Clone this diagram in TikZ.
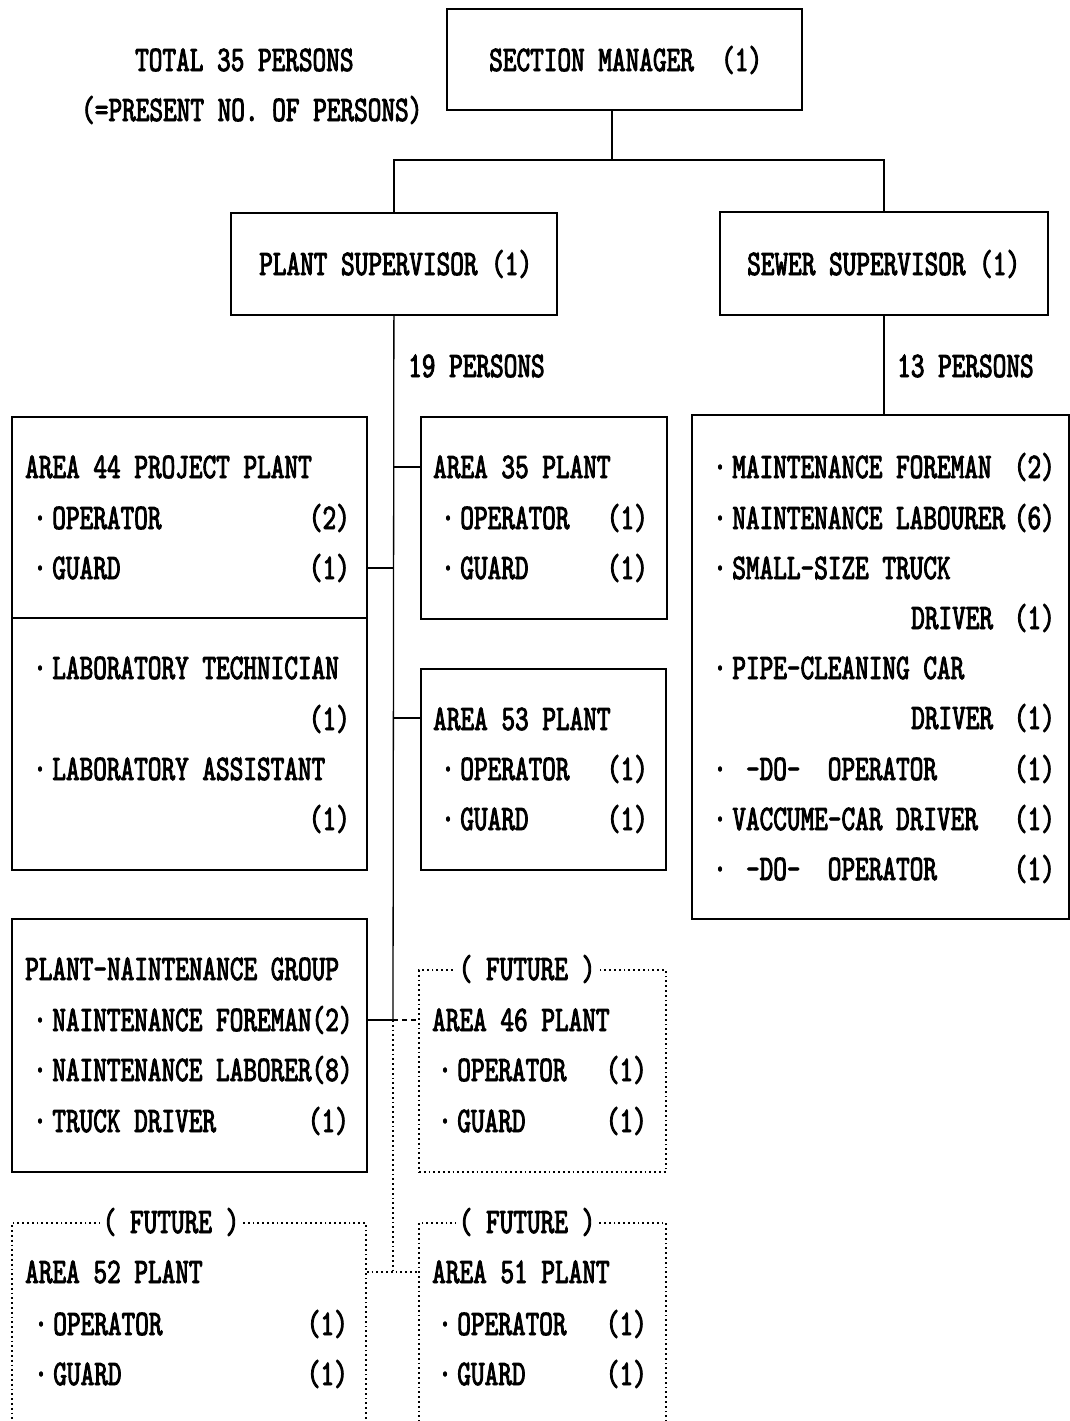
\documentclass[tikz,border=0pt]{standalone}
\usepackage{fontspec}
\newfontfamily\orgfont{lmmono10-regular.otf}[FakeStretch=0.722,FakeBold=2.5]
\newcommand\bul{·\hspace{5.5pt}}
\begin{document}
\begin{tikzpicture}[x=1pt,y=-1pt,
 box/.style={draw, line width=1.8pt, inner sep=0pt, anchor=north west},
 futbox/.style={draw, line width=1.8pt, dash pattern=on 1.8pt off 3pt, inner sep=0pt, anchor=north west},
 conn/.style={line width=1.3pt},
 dconn/.style={line width=1.8pt, dash pattern=on 1.8pt off 3pt},
 dashconn/.style={line width=1.3pt, dash pattern=on 5pt off 4pt},
 txt/.style={inner sep=0pt, anchor=base west, font=\orgfont\fontsize{36}{36}\selectfont},
 num/.style={txt, anchor=base east},
 futlbl/.style={txt, anchor=base, fill=white, inner xsep=3pt}
]
\useasboundingbox (0,0) rectangle (1070,1421);
\clip (0,0) rectangle (1070,1421);

% boxes
\node[box, minimum width=355pt, minimum height=101pt] (sm) at (446,8) {};
\node[box, minimum width=326pt, minimum height=102pt] (ps) at (230,212) {};
\node[box, minimum width=328pt, minimum height=103pt] (ss) at (719,211) {};
\node[box, minimum width=355pt, minimum height=453pt] (a44) at (11,416) {};
\node[box, minimum width=246pt, minimum height=202pt] (a35) at (420,416) {};
\node[box, minimum width=245pt, minimum height=201pt] (a53) at (420,668) {};
\node[box, minimum width=377pt, minimum height=504pt] (sew) at (691,414) {};
\node[box, minimum width=355pt, minimum height=253pt] (pm) at (11,918) {};
\node[futbox, minimum width=247pt, minimum height=202pt] (f46) at (418,969) {};
\node[futbox, minimum width=354pt, minimum height=240pt] (f52) at (11,1222) {};
\node[futbox, minimum width=247pt, minimum height=240pt] (f51) at (418,1222) {};

% divider in area 44 box
\path (a44.north west) ++(0,202) coordinate (d1);
\draw[line width=1.5pt] (d1) -- (d1 -| a44.east);

% connectors
\coordinate (j0) at (612,160);
\draw[conn] (sm.south -| j0) -- (j0);
\draw[conn] (ps.north) -- (ps.north |- j0) -- (ss.north |- j0) -- (ss.north);
\draw[conn] (ss.south) -- (ss.south |- sew.north);
\coordinate (r35) at (393,467);
\coordinate (r44) at (393,568);
\coordinate (r53) at (393,718);
\coordinate (t1) at (393,1020);
\coordinate (t2) at (393,1272);
\draw[conn] (ps.south) -- (t1);
\draw[conn] (r35) -- (r35 -| a35.west);
\draw[conn] (r44) -- (r44 -| a44.east);
\draw[conn] (r53) -- (r53 -| a53.west);
\draw[conn] (t1) -- (t1 -| pm.east);
\draw[dashconn] (t1) -- (t1 -| f46.west);
\draw[dconn] (t1) -- (t2);
\draw[dconn] (t2 -| f52.east) -- (t2 -| f51.west);

% top texts
\node[txt] (tot) at (135,71) {TOTAL 35 PERSONS};
\node[txt] (pres) at (81,121) {(=PRESENT NO. OF PERSONS)};
\node[txt] (smt) at (489,71) {SECTION MANAGER~~(1)};
\node[txt] (pst) at (259,275) {PLANT SUPERVISOR (1)};
\node[txt] (sst) at (747,275) {SEWER SUPERVISOR (1)};
\node[txt] (p19) at (408,377) {19 PERSONS};
\node[txt] (p13) at (897,377) {13 PERSONS};

% area 44
\node[txt] (a44a) at (25,478) {AREA 44 PROJECT PLANT};
\node[txt] (a44b) at (33,529) {\bul OPERATOR};
\node[num] (a44bn) at (350,529) {(2)};
\node[txt] (a44c) at (33,579) {\bul GUARD};
\node[num] (a44cn) at (350,579) {(1)};
\node[txt] (a44d) at (33,679) {\bul LABORATORY TECHNICIAN};
\node[num] (a44dn) at (350,730) {(1)};
\node[txt] (a44e) at (33,780) {\bul LABORATORY ASSISTANT};
\node[num] (a44en) at (350,830) {(1)};

% area 35
\node[txt] (a35a) at (433,478) {AREA 35 PLANT};
\node[txt] (a35b) at (441,529) {\bul OPERATOR};
\node[num] (a35bn) at (648,529) {(1)};
\node[txt] (a35c) at (441,579) {\bul GUARD};
\node[num] (a35cn) at (648,579) {(1)};

% area 53
\node[txt] (a53a) at (433,730) {AREA 53 PLANT};
\node[txt] (a53b) at (441,780) {\bul OPERATOR};
\node[num] (a53bn) at (648,780) {(1)};
\node[txt] (a53c) at (441,830) {\bul GUARD};
\node[num] (a53cn) at (648,830) {(1)};

% sewer box
\node[txt] (sw1) at (713,478) {\bul MAINTENANCE FOREMAN};
\node[num] (sw1n) at (1055,478) {(2)};
\node[txt] (sw2) at (713,529) {\bul NAINTENANCE LABOURER};
\node[num] (sw2n) at (1055,529) {(6)};
\node[txt] (sw3) at (713,579) {\bul SMALL-SIZE TRUCK};
\node[txt] (sw4) at (911,629) {DRIVER};
\node[num] (sw4n) at (1055,629) {(1)};
\node[txt] (sw5) at (713,679) {\bul PIPE-CLEANING CAR};
\node[txt] (sw6) at (911,729) {DRIVER};
\node[num] (sw6n) at (1055,729) {(1)};
\node[txt] (sw7) at (713,780) {\bul~-DO-~~OPERATOR};
\node[num] (sw7n) at (1055,780) {(1)};
\node[txt] (sw8) at (713,830) {\bul VACCUME-CAR DRIVER};
\node[num] (sw8n) at (1055,830) {(1)};
\node[txt] (sw9) at (713,880) {\bul~-DO-~~OPERATOR};
\node[num] (sw9n) at (1055,880) {(1)};

% plant maintenance group
\node[txt] (pm1) at (25,980) {PLANT-NAINTENANCE GROUP};
\node[txt] (pm2) at (33,1031) {\bul NAINTENANCE FOREMAN(2)};
\node[txt] (pm3) at (33,1081) {\bul NAINTENANCE LABORER(8)};
\node[txt] (pm4) at (33,1132) {\bul TRUCK DRIVER};
\node[num] (pm4n) at (349,1132) {(1)};

% future area 46
\node[futlbl] (f46l) at (527,980) {( FUTURE )};
\node[txt] (f46a) at (432,1031) {AREA 46 PLANT};
\node[txt] (f46b) at (438,1081) {\bul OPERATOR};
\node[num] (f46bn) at (647,1081) {(1)};
\node[txt] (f46c) at (438,1132) {\bul GUARD};
\node[num] (f46cn) at (647,1132) {(1)};

% future area 52
\node[futlbl] (f52l) at (171,1233) {( FUTURE )};
\node[txt] (f52a) at (25,1283) {AREA 52 PLANT};
\node[txt] (f52b) at (34,1335) {\bul OPERATOR};
\node[num] (f52bn) at (348,1335) {(1)};
\node[txt] (f52c) at (34,1385) {\bul GUARD};
\node[num] (f52cn) at (348,1385) {(1)};

% future area 51
\node[futlbl] (f51l) at (527,1233) {( FUTURE )};
\node[txt] (f51a) at (432,1283) {AREA 51 PLANT};
\node[txt] (f51b) at (438,1335) {\bul OPERATOR};
\node[num] (f51bn) at (647,1335) {(1)};
\node[txt] (f51c) at (438,1385) {\bul GUARD};
\node[num] (f51cn) at (647,1385) {(1)};
\end{tikzpicture}
\end{document}
